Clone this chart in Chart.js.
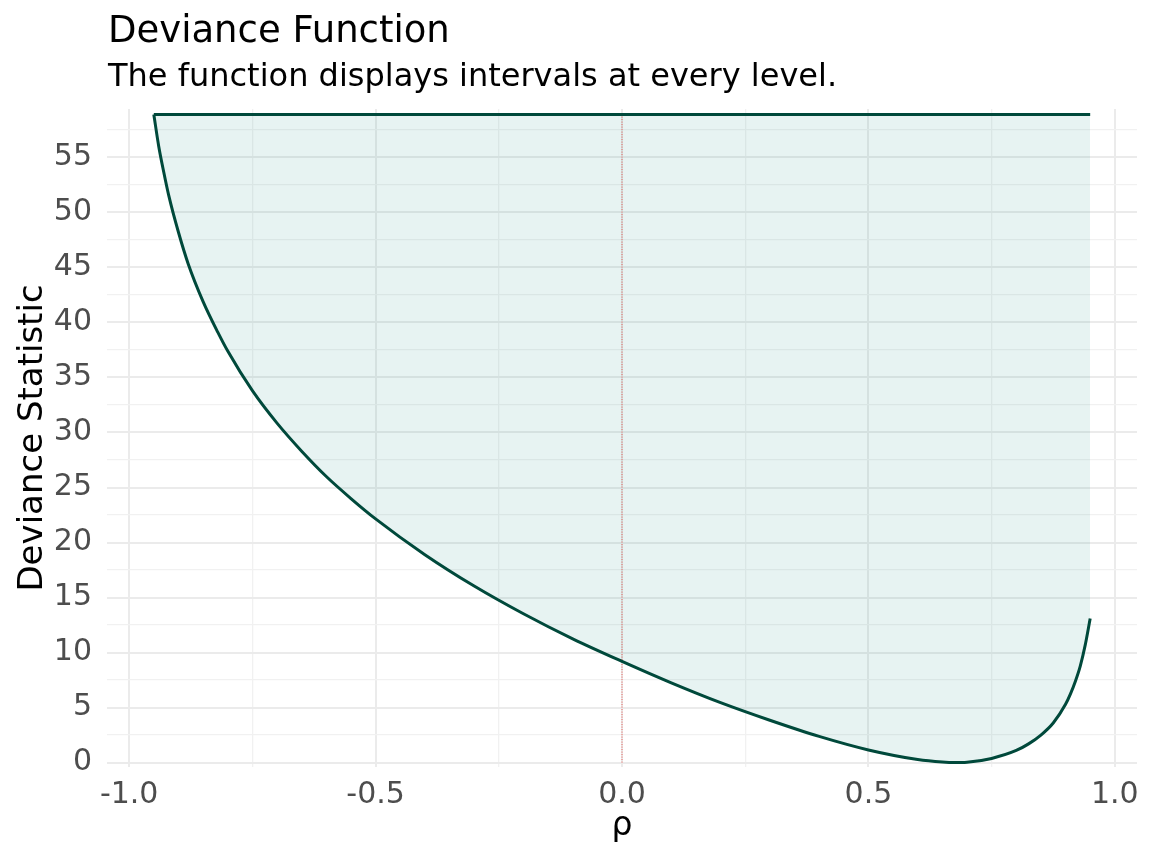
<!DOCTYPE html>
<html>
<head>
<meta charset="utf-8">
<title>Deviance Function</title>
<script src="https://cdn.jsdelivr.net/npm/chart.js"></script>
<style>
  body { margin: 0; background: #ffffff; }
  canvas { display: block; }
</style>
</head>
<body>
<canvas id="chart" width="1152" height="864"></canvas>
<script>
// values
var rho = [-0.95, -0.94, -0.93, -0.92, -0.90, -0.88, -0.85, -0.82, -0.80, -0.75,
           -0.70, -0.65, -0.60, -0.55, -0.50, -0.40, -0.30, -0.20, -0.10, 0.00,
           0.10, 0.20, 0.30, 0.40, 0.50, 0.60, 0.65, 0.675, 0.70, 0.75,
           0.80, 0.825, 0.85, 0.875, 0.90, 0.91, 0.92, 0.93, 0.94, 0.95];
var deviance = [58.9, 56.0, 53.7, 51.6, 48.2, 45.3, 41.9, 39.1, 37.4, 33.8,
                30.85, 28.3, 26.0, 24.0, 22.15, 18.9, 16.05, 13.53, 11.25, 9.2,
                7.25, 5.45, 3.85, 2.38, 1.15, 0.28, 0.05, 0.0, 0.03, 0.38,
                1.1, 1.7, 2.5, 3.6, 5.3, 6.25, 7.4, 8.8, 10.7, 13.1];
var ceiling = 58.9;          // top of the shaded band
var ceilingRange = [-0.95, 0.95];
var refRho = 0;              // dotted reference line
var xTicks = [-1, -0.75, -0.5, -0.25, 0, 0.25, 0.5, 0.75, 1];
var xLabels = [-1, -0.5, 0, 0.5, 1];
var yTicks = [0, 2.5, 5, 7.5, 10, 12.5, 15, 17.5, 20, 22.5, 25, 27.5, 30, 32.5,
              35, 37.5, 40, 42.5, 45, 47.5, 50, 52.5, 55, 57.5];
var yLabels = [0, 5, 10, 15, 20, 25, 30, 35, 40, 45, 50, 55];

var titleText = "Deviance Function";
var subtitleText = "The function displays intervals at every level.";
var xTitle = "\u03c1";
var yTitle = "Deviance Statistic";

var curve = [];
for (var i = 0; i < rho.length; i++) {
  curve.push({x: rho[i], y: deviance[i]});
}

var FONT = "'DejaVu Sans', sans-serif";
var lineColor = "#00493b";

function isMajor(list, v) {
  for (var k = 0; k < list.length; k++) {
    if (Math.abs(list[k] - v) < 1e-9) return true;
  }
  return false;
}

var textPlugin = {
  id: 'texts',
  afterDraw: function(chart) {
    var ctx = chart.ctx;
    var area = chart.chartArea;
    ctx.save();
    ctx.fillStyle = "#000000";
    ctx.textAlign = "left";
    ctx.textBaseline = "alphabetic";
    ctx.font = "37px " + FONT;
    ctx.fillText(titleText, area.left + 1, 42);
    ctx.font = "32px " + FONT;
    ctx.fillText(subtitleText, area.left + 1, 86);

    ctx.textAlign = "center";
    ctx.font = "33px " + FONT;
    ctx.fillText(xTitle, (area.left + area.right) / 2, 835);

    ctx.font = "34px " + FONT;
    ctx.translate(42, (area.top + area.bottom) / 2);
    ctx.rotate(-Math.PI / 2);
    ctx.fillText(yTitle, 0, 0);
    ctx.restore();
  }
};

window.onload = function() {
  var ctx = document.getElementById('chart').getContext('2d');
  window.theChart = new Chart(ctx, {
    type: 'line',
    data: {
      datasets: [{
        label: 'deviance',
        data: curve,
        borderColor: lineColor,
        borderWidth: 3,
        backgroundColor: 'rgba(20, 140, 130, 0.1)',
        fill: {value: ceiling},
        pointRadius: 0,
        cubicInterpolationMode: 'monotone',
        order: 1
      }, {
        label: 'ceiling',
        data: [{x: ceilingRange[0], y: ceiling}, {x: ceilingRange[1], y: ceiling}],
        borderColor: lineColor,
        borderWidth: 3,
        pointRadius: 0,
        fill: false,
        order: 1
      }, {
        label: 'reference',
        data: [{x: refRho, y: 0}, {x: refRho, y: ceiling}],
        borderColor: '#e8564e',
        borderWidth: 1,
        borderDash: [1, 1.5],
        pointRadius: 0,
        fill: false,
        order: 2
      }]
    },
    options: {
      responsive: false,
      animation: false,
      devicePixelRatio: 1,
      layout: { padding: { top: 109, right: 15, left: 0, bottom: 0 } },
      plugins: {
        legend: { display: false },
        title: { display: false },
        tooltip: { enabled: false },
        filler: { drawTime: 'beforeDatasetsDraw' }
      },
      scales: {
        x: {
          type: 'linear',
          min: -1.045,
          max: 1.045,
          afterBuildTicks: function(scale) {
            scale.ticks = xTicks.map(function(v) { return {value: v}; });
          },
          afterFit: function(scale) { scale.height = 97; },
          border: { display: false },
          grid: {
            drawTicks: false,
            color: function(c) { return isMajor(xLabels, c.tick.value) ? '#ebebeb' : '#f1f1f1'; },
            lineWidth: function(c) { return isMajor(xLabels, c.tick.value) ? 2 : 1.3; }
          },
          ticks: {
            color: '#4d4d4d',
            padding: 10,
            maxRotation: 0,
            autoSkip: false,
            font: { family: FONT, size: 30 },
            callback: function(v) { return isMajor(xLabels, v) ? v.toFixed(1) : ''; }
          }
        },
        y: {
          type: 'linear',
          min: -0.4,
          max: 59.4,
          afterBuildTicks: function(scale) {
            scale.ticks = yTicks.map(function(v) { return {value: v}; });
          },
          afterFit: function(scale) { scale.width = 107; },
          border: { display: false },
          grid: {
            drawTicks: false,
            color: function(c) { return isMajor(yLabels, c.tick.value) ? '#ebebeb' : '#f1f1f1'; },
            lineWidth: function(c) { return isMajor(yLabels, c.tick.value) ? 2 : 1.3; }
          },
          ticks: {
            color: '#4d4d4d',
            padding: 15,
            autoSkip: false,
            font: { family: FONT, size: 30 },
            callback: function(v) { return isMajor(yLabels, v) ? String(v) : ''; }
          }
        }
      }
    },
    plugins: [textPlugin]
  });
};
</script>
</body>
</html>
